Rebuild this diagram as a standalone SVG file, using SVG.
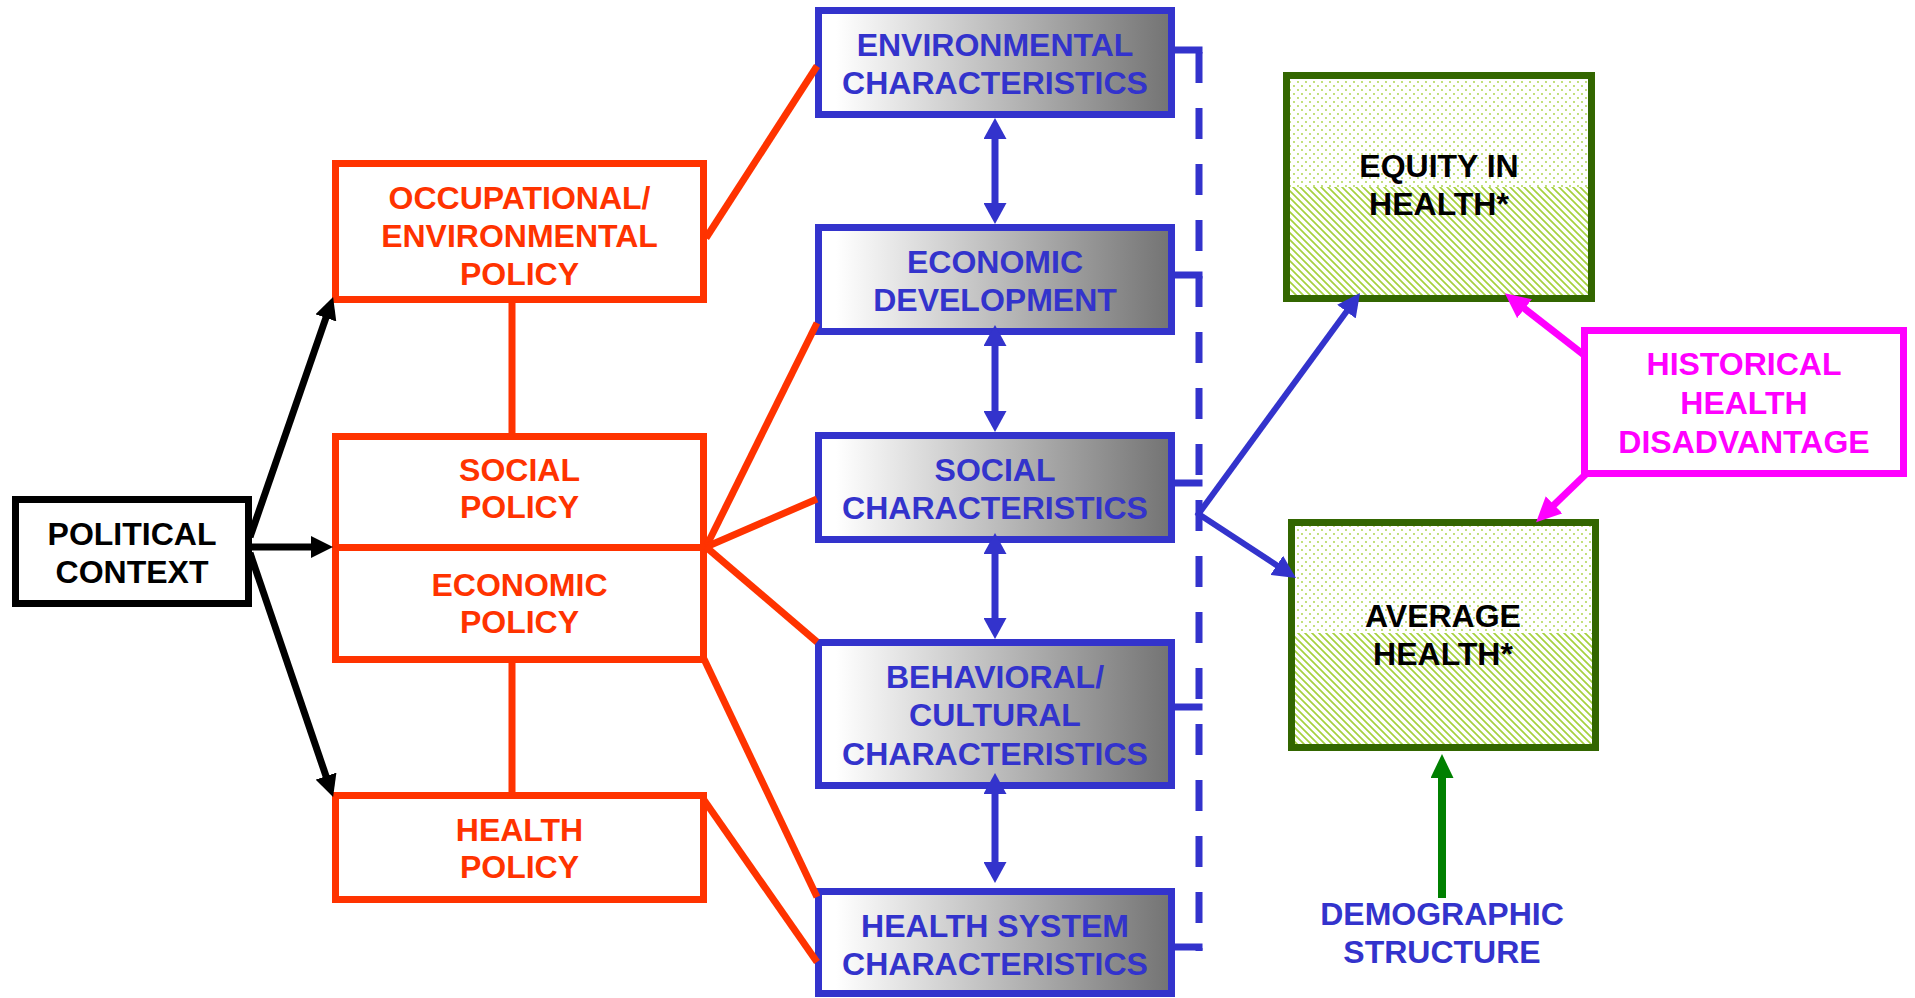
<svg xmlns="http://www.w3.org/2000/svg" width="1915" height="998" viewBox="0 0 1915 998">
<style>
text { font-family: "Liberation Sans", Arial, Helvetica, sans-serif; font-weight: bold; font-size: 32px; text-anchor: middle; }
.red { fill: #FF3300; }
.blue { fill: #3333CC; }
.blk { fill: #000000; }
.mag { fill: #FF00FF; }
.pbox { fill: #FFFFFF; stroke: #000000; stroke-width: 7; }
.redbox { fill: #FFFFFF; stroke: #FF3300; stroke-width: 7; }
.bluebox { fill: url(#grad); stroke: #3333CC; stroke-width: 7; }
.greenbox { fill: none; stroke: #336600; stroke-width: 7; }
.magbox { fill: #FFFFFF; stroke: #FF00FF; stroke-width: 7; }
.redline { stroke: #FF3300; stroke-width: 7; fill: none; }
.blkarrow { stroke: #000000; stroke-width: 7; fill: none; marker-end: url(#hBlack); }
.bluearrow { stroke: #3333CC; stroke-width: 6; fill: none; marker-end: url(#hBlue); }
.bidir { stroke: #3333CC; stroke-width: 7; fill: none; marker-start: url(#hBi); marker-end: url(#hBi); }
.dash { stroke: #3333CC; stroke-width: 7; fill: none; stroke-dasharray: 31 25; }
.stub { stroke: #3333CC; stroke-width: 7; fill: none; }
.magarrow { stroke: #FF00FF; stroke-width: 7; fill: none; marker-end: url(#hMag); }
.grnarrow { stroke: #008000; stroke-width: 8; fill: none; marker-end: url(#hGrn); }
</style>
<defs>
<linearGradient id="grad" x1="0" y1="0" x2="1" y2="0">
<stop offset="0" stop-color="#FFFFFF"/>
<stop offset="0.05" stop-color="#FFFFFF"/>
<stop offset="1" stop-color="#737373"/>
</linearGradient>
<pattern id="dots" patternUnits="userSpaceOnUse" width="8" height="8">
<circle cx="2" cy="2" r="0.9" fill="#A6D13F"/>
<circle cx="6" cy="6" r="0.9" fill="#A6D13F"/>
</pattern>
<pattern id="hatch" patternUnits="userSpaceOnUse" width="7" height="7">
<path d="M-1,-1 L8,8 M-1,6 L1,8 M6,-1 L8,1" stroke="#A6D13F" stroke-width="1.7"/>
</pattern>
<marker id="hBlack" markerUnits="userSpaceOnUse" markerWidth="22" markerHeight="22" refX="4" refY="11" orient="auto">
<path d="M0,0 L22,11 L0,22 z" fill="#000000"/>
</marker>
<marker id="hBlue" markerUnits="userSpaceOnUse" markerWidth="23" markerHeight="23" refX="4" refY="11.5" orient="auto">
<path d="M0,0 L23,11.5 L0,23 z" fill="#3333CC"/>
</marker>
<marker id="hBi" markerUnits="userSpaceOnUse" markerWidth="21" markerHeight="23" refX="3" refY="11.5" orient="auto-start-reverse">
<path d="M0,0 L21,11.5 L0,23 z" fill="#3333CC"/>
</marker>
<marker id="hMag" markerUnits="userSpaceOnUse" markerWidth="25" markerHeight="24" refX="5" refY="12" orient="auto">
<path d="M0,0 L25,12 L0,24 z" fill="#FF00FF"/>
</marker>
<marker id="hGrn" markerUnits="userSpaceOnUse" markerWidth="24" markerHeight="23" refX="4" refY="11.5" orient="auto">
<path d="M0,0 L24,11.5 L0,23 z" fill="#008000"/>
</marker>
</defs>
<rect x="0" y="0" width="1915" height="998" fill="#FFFFFF"/>

<g id="political-context">
<rect class="pbox" x="15.5" y="499.5" width="233" height="104"/>
<text class="blk" x="132" y="545">POLITICAL</text>
<text class="blk" x="132" y="583">CONTEXT</text>
</g>

<g id="occupational-policy">
<rect class="redbox" x="335.5" y="163.5" width="368" height="136"/>
<text class="red" x="519.5" y="209">OCCUPATIONAL/</text>
<text class="red" x="519.5" y="247">ENVIRONMENTAL</text>
<text class="red" x="519.5" y="285">POLICY</text>
</g>

<g id="social-policy">
<rect class="redbox" x="335.5" y="436.5" width="368" height="111"/>
<text class="red" x="519.5" y="481">SOCIAL</text>
<text class="red" x="519.5" y="518">POLICY</text>
</g>

<g id="economic-policy">
<rect class="redbox" x="335.5" y="547.5" width="368" height="112"/>
<text class="red" x="519.5" y="596">ECONOMIC</text>
<text class="red" x="519.5" y="633">POLICY</text>
</g>

<g id="health-policy">
<rect class="redbox" x="335.5" y="795.5" width="368" height="104"/>
<text class="red" x="519.5" y="841">HEALTH</text>
<text class="red" x="519.5" y="878">POLICY</text>
</g>

<g id="environmental-characteristics">
<rect class="bluebox" x="818.5" y="10.5" width="353" height="104"/>
<text class="blue" x="995" y="56">ENVIRONMENTAL</text>
<text class="blue" x="995" y="94">CHARACTERISTICS</text>
</g>

<g id="economic-development">
<rect class="bluebox" x="818.5" y="227.5" width="353" height="104"/>
<text class="blue" x="995" y="273">ECONOMIC</text>
<text class="blue" x="995" y="311">DEVELOPMENT</text>
</g>

<g id="social-characteristics">
<rect class="bluebox" x="818.5" y="435.5" width="353" height="104"/>
<text class="blue" x="995" y="481">SOCIAL</text>
<text class="blue" x="995" y="519">CHARACTERISTICS</text>
</g>

<g id="behavioral-cultural-characteristics">
<rect class="bluebox" x="818.5" y="642.5" width="353" height="143"/>
<text class="blue" x="995" y="688">BEHAVIORAL/</text>
<text class="blue" x="995" y="726">CULTURAL</text>
<text class="blue" x="995" y="765">CHARACTERISTICS</text>
</g>

<g id="health-system-characteristics">
<rect class="bluebox" x="818.5" y="891.5" width="353" height="102"/>
<text class="blue" x="995" y="937">HEALTH SYSTEM</text>
<text class="blue" x="995" y="975">CHARACTERISTICS</text>
</g>

<g id="equity-in-health">
<rect x="1290" y="79" width="301" height="108" fill="url(#dots)"/>
<rect x="1290" y="187" width="301" height="111" fill="url(#hatch)"/>
<rect class="greenbox" x="1286.5" y="75.5" width="305" height="223"/>
<text class="blk" x="1439" y="177">EQUITY IN</text>
<text class="blk" x="1439" y="215">HEALTH*</text>
</g>

<g id="average-health">
<rect x="1295" y="526" width="300" height="107" fill="url(#dots)"/>
<rect x="1295" y="633" width="300" height="114" fill="url(#hatch)"/>
<rect class="greenbox" x="1291.5" y="522.5" width="304" height="225"/>
<text class="blk" x="1443" y="627">AVERAGE</text>
<text class="blk" x="1443" y="665">HEALTH*</text>
</g>

<g id="historical-health-disadvantage">
<rect class="magbox" x="1584.5" y="330.5" width="319" height="143"/>
<text class="mag" x="1744" y="375">HISTORICAL</text>
<text class="mag" x="1744" y="414">HEALTH</text>
<text class="mag" x="1744" y="453">DISADVANTAGE</text>
</g>

<g id="demographic-structure">
<text class="blue" x="1442" y="925">DEMOGRAPHIC</text>
<text class="blue" x="1442" y="963">STRUCTURE</text>
</g>

<g id="connectors">
<line class="blkarrow" x1="250" y1="537" x2="327.2" y2="314.1"/>
<line class="blkarrow" x1="250" y1="547" x2="315" y2="547"/>
<line class="blkarrow" x1="250" y1="553" x2="327.3" y2="779.9"/>
<line class="redline" x1="512" y1="303" x2="512" y2="433"/>
<line class="redline" x1="512" y1="663" x2="512" y2="792"/>
<line class="redline" x1="706" y1="238" x2="817" y2="66"/>
<line class="redline" x1="706" y1="547" x2="817" y2="323"/>
<line class="redline" x1="706" y1="547" x2="817" y2="499"/>
<line class="redline" x1="706" y1="547" x2="817" y2="642"/>
<line class="redline" x1="704" y1="659" x2="817" y2="897"/>
<line class="redline" x1="704" y1="800" x2="817" y2="962"/>
<line class="bidir" x1="995" y1="136" x2="995" y2="206"/>
<line class="bidir" x1="995" y1="343" x2="995" y2="414"/>
<line class="bidir" x1="995" y1="551" x2="995" y2="621"/>
<line class="bidir" x1="995" y1="791" x2="995" y2="865"/>
<line class="dash" x1="1199" y1="52" x2="1199" y2="951"/>
<path class="stub" d="M1175,50 H1202.5 M1175,275 H1202.5 M1175,483 H1202.5 M1175,707 H1202.5 M1175,947 H1202.5"/>
<line class="bluearrow" x1="1197" y1="516" x2="1348.8" y2="308.4"/>
<line class="bluearrow" x1="1197" y1="513" x2="1280.1" y2="567.5"/>
<line class="magarrow" x1="1584" y1="355" x2="1520.6" y2="305.6"/>
<line class="magarrow" x1="1586" y1="474" x2="1550.5" y2="508.3"/>
<line class="grnarrow" x1="1442" y1="898" x2="1442" y2="774"/>
</g>
</svg>
